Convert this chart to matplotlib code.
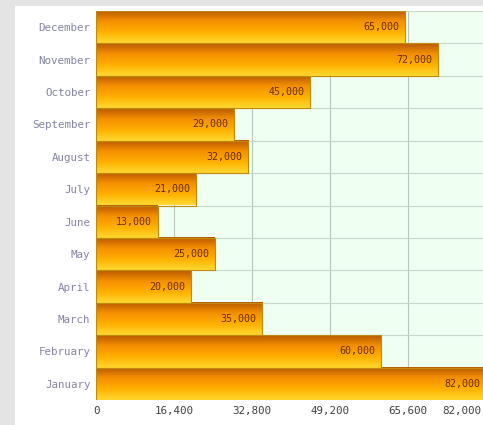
import matplotlib
matplotlib.use("Agg")
import matplotlib.pyplot as plt
import matplotlib.transforms as mtransforms
import numpy as np
from matplotlib.colors import LinearSegmentedColormap
from matplotlib.patches import Rectangle

months = ["January", "February", "March", "April", "May", "June",
          "July", "August", "September", "October", "November", "December"]
sales = [82000, 60000, 35000, 20000, 25000, 13000,
         21000, 32000, 29000, 45000, 72000, 65000]
xticks = [0, 16400, 32800, 49200, 65600, 82000]

fig = plt.figure(figsize=(4.83, 4.25), dpi=100)
fig.patch.set_facecolor("#e4e4e4")
fig.patches.append(Rectangle((15 / 483, 0), 1, (425 - 6) / 425,
                             transform=fig.transFigure, facecolor="white",
                             edgecolor="none", zorder=-5))

ax = fig.add_axes([96 / 483, 25 / 425, 390 / 483, 389 / 425])
ax.set_facecolor("#effff0")

grad = LinearSegmentedColormap.from_list(
    "amber", ["#ffd830", "#ffb000", "#f59000", "#b85a00"])
gimg = np.linspace(0, 1, 64).reshape(-1, 1)

mono = "DejaVu Sans Mono"
for i, v in enumerate(sales):
    ax.imshow(gimg, cmap=grad, aspect="auto", origin="lower",
              extent=(0, v, i - 0.5, i + 0.5), zorder=2, interpolation="bilinear")
    ax.barh(i, v, height=1.0, facecolor="none", edgecolor="#c08a10",
            linewidth=0.8, zorder=3)
    ax.text(v - 1200, i, f"{v:,}", ha="right", va="center",
            fontsize=7.2, family=mono, color="#6a2c00", zorder=4)

ax.set_xlim(0, 82000)
ax.set_ylim(-0.5, len(months) - 0.5)
ax.set_xticks(xticks)
ax.set_xticklabels([f"{t:,}" for t in xticks], family=mono, fontsize=7.8,
                   color="#404040")
ax.set_yticks(range(len(months)))
ax.set_yticklabels(months, family=mono, fontsize=7.8, color="#8484a4")
ax.set_yticks(np.arange(-0.5, len(months), 1.0), minor=True)
ax.tick_params(axis="both", length=0, pad=4)
ax.tick_params(which="minor", length=0)
ax.grid(axis="x", which="major", color="#b8c8b8", linewidth=0.8, zorder=1)
ax.grid(axis="y", which="minor", color="#c8d8c8", linewidth=0.8, zorder=1)
ax.set_axisbelow(True)
for s in ax.spines.values():
    s.set_visible(False)

# pull the last tick label inward so it sits next to its neighbour
last = ax.get_xticklabels()[-1]
last.set_transform(last.get_transform() +
                   mtransforms.ScaledTranslation(-24 / 100, 0, fig.dpi_scale_trans))

fig.savefig("out.png", dpi=100, facecolor=fig.get_facecolor())
